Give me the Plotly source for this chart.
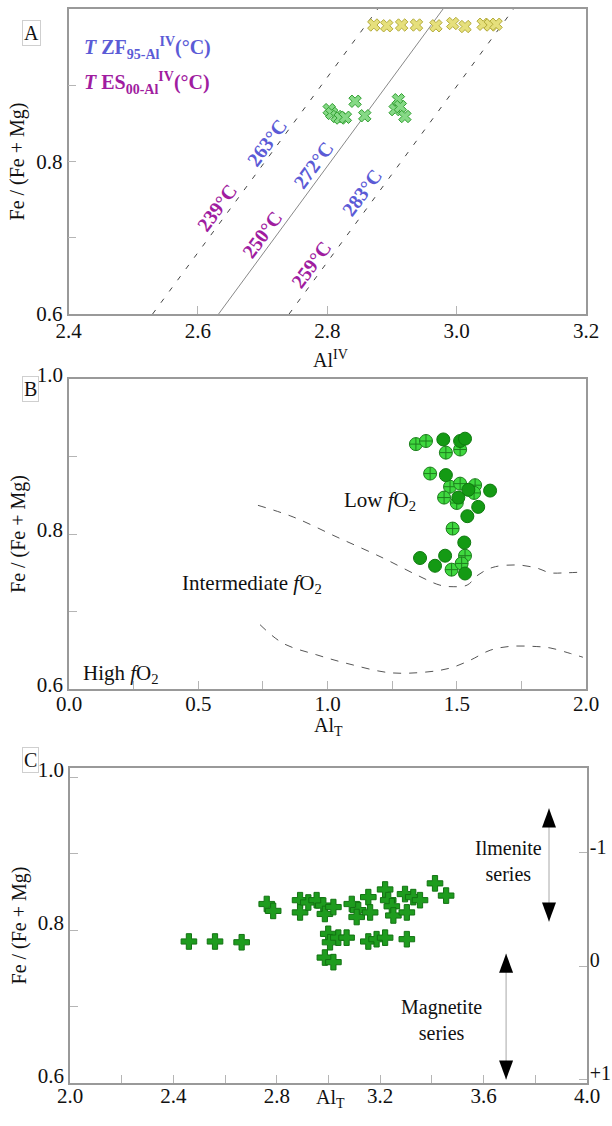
import plotly.graph_objects as go

W, H = 612, 1126
SERIF = "Liberation Serif"

# ---------------- Panel A: Al(IV) vs Fe/(Fe+Mg) ----------------
a_yellow_al = [2.872, 2.892, 2.915, 2.938, 2.968, 2.994, 3.013, 3.041, 3.052, 3.061]
a_yellow_fe = [0.979, 0.978, 0.979, 0.979, 0.978, 0.981, 0.977, 0.980, 0.979, 0.980]
a_green_al = [2.803, 2.807, 2.815, 2.820, 2.828, 2.843, 2.858, 2.905, 2.910, 2.913, 2.920]
a_green_fe = [0.868, 0.863, 0.859, 0.857, 0.858, 0.879, 0.860, 0.868, 0.881, 0.872, 0.859]

# isotherms, given by their ends at Fe/(Fe+Mg) = 0.6 and 1.0
iso_fe = [0.6, 1.0]
iso_low_al = [2.530, 2.878]
iso_mid_al = [2.632, 2.979]
iso_high_al = [2.741, 3.088]

zf_labels = ["263°C", "272°C", "283°C"]
es_labels = ["239°C", "250°C", "259°C"]

a_ticks = [2.4, 2.6, 2.8, 3.0, 3.2]
a_ticktext = ["2.4", "2.6", "2.8", "3.0", "3.2"]

# ---------------- Panel B: Al_T vs Fe/(Fe+Mg) ----------------
b_light_al = [1.342, 1.381, 1.458, 1.513, 1.397, 1.474, 1.513, 1.571, 1.567, 1.451,
              1.500, 1.484, 1.532, 1.480, 1.519]
b_light_fe = [0.916, 0.920, 0.905, 0.909, 0.878, 0.861, 0.865, 0.863, 0.853, 0.847,
              0.840, 0.807, 0.772, 0.754, 0.762]
b_dark_al = [1.448, 1.513, 1.532, 1.458, 1.545, 1.629, 1.506, 1.583, 1.541, 1.529,
             1.358, 1.416, 1.455, 1.532]
b_dark_fe = [0.922, 0.920, 0.923, 0.876, 0.857, 0.856, 0.847, 0.835, 0.823, 0.789,
             0.769, 0.759, 0.772, 0.749]

# boundary between low and intermediate fO2
b_upper_al = [0.731, 0.867, 1.037, 1.215, 1.346, 1.435, 1.486, 1.540, 1.582, 1.640,
              1.733, 1.810, 1.861, 1.926, 1.996]
b_upper_fe = [0.837, 0.822, 0.796, 0.769, 0.747, 0.734, 0.732, 0.734, 0.747, 0.757,
              0.760, 0.756, 0.750, 0.750, 0.751]
# boundary between intermediate and high fO2
b_lower_al = [0.739, 0.828, 0.959, 1.087, 1.242, 1.385, 1.474, 1.551, 1.629, 1.706,
              1.795, 1.861, 1.938, 1.988]
b_lower_fe = [0.683, 0.659, 0.644, 0.632, 0.621, 0.622, 0.627, 0.637, 0.650, 0.655,
              0.655, 0.653, 0.646, 0.641]

# ---------------- Panel C: Al_T vs Fe/(Fe+Mg), QFM scale ----------------
c_al = [2.460, 2.561, 2.664, 2.761, 2.786, 2.890, 2.890, 2.922, 2.954, 2.980,
        2.986, 3.019, 2.999, 3.006, 3.038, 3.070, 2.986, 3.019, 3.090, 3.115,
        3.109, 3.154, 3.161, 3.154, 3.186, 3.219, 3.219, 3.231, 3.245, 3.251,
        3.296, 3.303, 3.328, 3.354, 3.303, 3.412, 3.455]
c_fe = [0.785, 0.785, 0.784, 0.834, 0.825, 0.839, 0.823, 0.836, 0.839, 0.832,
        0.821, 0.830, 0.795, 0.784, 0.790, 0.790, 0.764, 0.758, 0.834, 0.826,
        0.817, 0.843, 0.823, 0.785, 0.788, 0.790, 0.853, 0.839, 0.831, 0.819,
        0.847, 0.823, 0.843, 0.839, 0.788, 0.861, 0.845]

qfm_ticks = [-1, 0, 1]
qfm_text = ["-1", "0", "+1"]

# series arrows: x position and the two tips in Fe/(Fe+Mg)
ilm_arrow_x, ilm_arrow_top, ilm_arrow_bot = 3.853, 0.959, 0.811
mag_arrow_x, mag_arrow_top, mag_arrow_bot = 3.687, 0.769, 0.6046


def px_x(p):
    return p / W


def px_y(p):
    return 1 - p / H


fig = go.Figure()

# ---- panel A traces
for al in (iso_low_al, iso_high_al):
    fig.add_trace(go.Scatter(x=al, y=iso_fe, mode="lines", xaxis="x", yaxis="y",
                             line=dict(color="#444", width=1, dash="5px,9px")))
fig.add_trace(go.Scatter(x=iso_mid_al, y=iso_fe, mode="lines", xaxis="x", yaxis="y",
                         line=dict(color="#888", width=1)))
fig.add_trace(go.Scatter(x=a_yellow_al, y=a_yellow_fe, mode="markers", xaxis="x", yaxis="y",
                         marker=dict(symbol="x", size=11, color="#e6e07c",
                                     line=dict(color="#b3ab3a", width=1))))
fig.add_trace(go.Scatter(x=a_green_al, y=a_green_fe, mode="markers", xaxis="x", yaxis="y",
                         marker=dict(symbol="x", size=11, color="#86d986",
                                     line=dict(color="#2e9e2e", width=1))))

# ---- panel B traces
for al, fe in ((b_upper_al, b_upper_fe), (b_lower_al, b_lower_fe)):
    fig.add_trace(go.Scatter(x=al, y=fe, mode="lines", xaxis="x2", yaxis="y2",
                             line=dict(color="#555", width=1, dash="8px,8px",
                                       shape="spline", smoothing=1)))
fig.add_trace(go.Scatter(x=b_light_al, y=b_light_fe, mode="markers", xaxis="x2", yaxis="y2",
                         marker=dict(symbol="circle-cross", size=13, color="#3fd83f",
                                     line=dict(color="#1d7f1d", width=1))))
fig.add_trace(go.Scatter(x=b_dark_al, y=b_dark_fe, mode="markers", xaxis="x2", yaxis="y2",
                         marker=dict(symbol="circle", size=13, color="#149a14",
                                     line=dict(color="#0e7a0e", width=1))))

# ---- panel C traces
fig.add_trace(go.Scatter(x=c_al, y=c_fe, mode="markers", xaxis="x3", yaxis="y3",
                         marker=dict(symbol="cross", size=13, color="#1e9c1e",
                                     line=dict(color="#137313", width=1))))
# invisible trace so the QFM axis is drawn
fig.add_trace(go.Scatter(x=[None], y=[None], xaxis="x3", yaxis="y4", mode="markers",
                         hoverinfo="skip"))

tickfont = dict(family=SERIF, size=21, color="#111")
titlefont = dict(family=SERIF, size=20, color="#111")
axis_common = dict(showline=True, linecolor="#999", linewidth=1.5, mirror=True,
                   ticks="inside", ticklen=8, tickwidth=1, tickcolor="#b5b5b5",
                   showgrid=False, zeroline=False, tickfont=tickfont, automargin=False)


def fe_axis(domain, anchor, rng):
    return dict(axis_common, domain=domain, anchor=anchor, range=rng,
                tickmode="array", tickvals=[0.6, 0.7, 0.8, 0.9, 1.0],
                ticktext=["0.6", "", "0.8", "", "1.0"],
                title=dict(text="Fe / (Fe + Mg)", font=titlefont, standoff=6))


layout = dict(
    width=W, height=H, margin=dict(l=0, r=0, t=0, b=0),
    template="none", paper_bgcolor="white", plot_bgcolor="white", showlegend=False,
    font=dict(family=SERIF, color="#111"),
    xaxis=dict(axis_common, domain=[px_x(68.5), px_x(586)], anchor="y", range=[2.4, 3.2],
               tickmode="array", tickvals=a_ticks, ticktext=a_ticktext,
               ticklabelstandoff=-3),
    yaxis=fe_axis([px_y(314), px_y(9)], "x", [0.6, 1.0]),
    xaxis2=dict(axis_common, domain=[px_x(69), px_x(586)], anchor="y2", range=[0, 2.0],
                tickmode="array", tickvals=[0, 0.25, 0.5, 0.75, 1.0, 1.25, 1.5, 1.75, 2.0],
                ticktext=["0.0", "", "0.5", "", "1.0", "", "1.5", "", "2.0"],
                ticklabelstandoff=-5),
    yaxis2=dict(fe_axis([px_y(689), px_y(379)], "x2", [0.6, 1.0]), ticklabelshift=-4),
    xaxis3=dict(axis_common, domain=[px_x(70), px_x(587)], anchor="y3", range=[2.0, 4.0],
                tickmode="array",
                tickvals=[2.0, 2.2, 2.4, 2.6, 2.8, 3.0, 3.2, 3.4, 3.6, 3.8, 4.0],
                ticktext=["2.0", "", "2.4", "", "2.8", "", "3.2", "", "3.6", "", "4.0"],
                ticklabelstandoff=-7),
    yaxis3=dict(fe_axis([px_y(1083), px_y(768)], "x3", [0.6, 1.0118]), mirror=False,
                ticklabelshift=-7),
    yaxis4=dict(axis_common, domain=[px_y(1083), px_y(768)], anchor="x3", overlaying="y3",
                side="right", mirror=False, range=[1.035, -1.752], tickmode="array",
                tickvals=qfm_ticks, ticktext=qfm_text, ticklabelstandoff=-3,
                ticklabelshift=6,
                tickfont=dict(family=SERIF, size=20, color="#111")),
)
fig.update_layout(**layout)

ann = []
# panel letters
for letter, cy in (("A", 20), ("B", 389), ("C", 773)):
    ann.append(dict(text=letter, x=px_x(22), y=px_y(cy), xref="paper", yref="paper",
                    showarrow=False, font=dict(family=SERIF, size=20, color="#111"),
                    bordercolor="#cfcfcf", borderwidth=1, borderpad=1, bgcolor="white"))

# x-axis titles
for txt, cx, cy in (("Al<sup>IV</sup>", 330, 345), ("Al<sub>T</sub>", 328, 726),
                    ("Al<sub>T</sub>", 330, 1113)):
    ann.append(dict(text=txt, x=px_x(cx), y=px_y(cy), xref="paper", yref="paper",
                    showarrow=False, font=titlefont))

# panel A legend
blue, magenta = "#5b5bd6", "#a01ca0"
ann.append(dict(text="<b><i>T</i> ZF<sub>95-Al</sub><sup>IV</sup>(°C)</b>",
                x=px_x(82), y=px_y(32), xref="paper", yref="paper", xanchor="left",
                showarrow=False, font=dict(family=SERIF, size=20, color=blue)))
ann.append(dict(text="<b><i>T</i> ES<sub>00-Al</sub><sup>IV</sup>(°C)</b>",
                x=px_x(82), y=px_y(67), xref="paper", yref="paper", xanchor="left",
                showarrow=False, font=dict(family=SERIF, size=20, color=magenta)))

# isotherm labels along the lines
label_pos_zf = [(2.7064, 0.824), (2.7784, 0.7955), (2.8532, 0.7585)]
label_pos_es = [(2.6291, 0.7388), (2.6987, 0.7038), (2.7744, 0.6645)]
for txt, (lx, ly) in zip(zf_labels, label_pos_zf):
    ann.append(dict(text=f"<b>{txt}</b>", x=lx, y=ly, xref="x", yref="y", showarrow=False,
                    textangle=-53.6, font=dict(family=SERIF, size=20, color=blue)))
for txt, (lx, ly) in zip(es_labels, label_pos_es):
    ann.append(dict(text=f"<b>{txt}</b>", x=lx, y=ly, xref="x", yref="y", showarrow=False,
                    textangle=-53.6, font=dict(family=SERIF, size=20, color=magenta)))

# panel B field names
bfont = dict(family=SERIF, size=21, color="#111")
for txt, (lx, ly) in (("Low <i>f</i>O<sub>2</sub>", (1.203, 0.842)),
                      ("Intermediate <i>f</i>O<sub>2</sub>", (0.708, 0.735)),
                      ("High <i>f</i>O<sub>2</sub>", (0.201, 0.620))):
    ann.append(dict(text=txt, x=lx, y=ly, xref="x2", yref="y2", showarrow=False, font=bfont))

# panel C texts
cfont = dict(family=SERIF, size=20, color="#111")
ann.append(dict(text="biotite + K-feldspar ± magnetite", x=2.983, y=1.0249, xref="x3",
                yref="y3", showarrow=False, font=cfont))
ann.append(dict(text="~ΔQFM", x=3.965, y=1.0249, xref="x3", yref="y3", showarrow=False,
                font=cfont))
ann.append(dict(text="Ilmenite<br>series", x=3.698, y=0.8902, xref="x3", yref="y3",
                showarrow=False, font=cfont, align="center"))
ann.append(dict(text="Magnetite<br>series", x=3.439, y=0.6824, xref="x3", yref="y3",
                showarrow=False, font=cfont, align="center"))
fig.update_layout(annotations=ann)

# series arrows: thin shaft plus solid heads
shapes = []
for ax_, top, bot in ((ilm_arrow_x, ilm_arrow_top, ilm_arrow_bot),
                      (mag_arrow_x, mag_arrow_top, mag_arrow_bot)):
    shapes.append(dict(type="line", xref="x3", yref="y3", x0=ax_, x1=ax_, y0=bot, y1=top,
                       line=dict(color="#a8a8a8", width=1)))
    shapes.append(dict(type="path", xref="x3", yref="y3", xsizemode="pixel",
                       ysizemode="pixel", xanchor=ax_, yanchor=top,
                       path="M0,0 L-7,-19 L7,-19 Z", fillcolor="black",
                       line=dict(width=0)))
    shapes.append(dict(type="path", xref="x3", yref="y3", xsizemode="pixel",
                       ysizemode="pixel", xanchor=ax_, yanchor=bot,
                       path="M0,0 L-7,19 L7,19 Z", fillcolor="black",
                       line=dict(width=0)))
fig.update_layout(shapes=shapes)

fig.write_html("out.html")
